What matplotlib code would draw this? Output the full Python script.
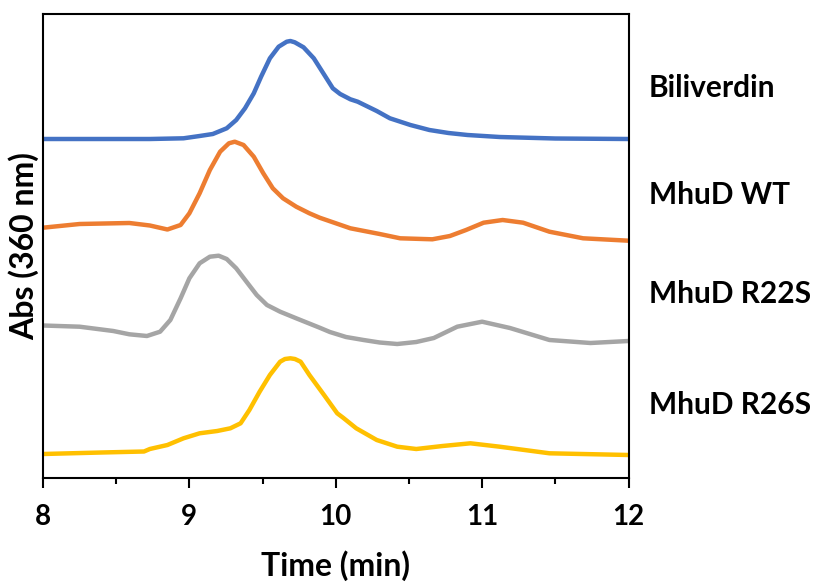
import matplotlib
matplotlib.use('Agg')
import matplotlib.pyplot as plt
from matplotlib.ticker import MultipleLocator

# Retention time (min) and offset absorbance
t_bv = [8.00, 8.30, 8.73, 8.96, 9.07, 9.16, 9.255, 9.32, 9.38, 9.44, 9.49, 9.55,
        9.61, 9.665, 9.69, 9.72, 9.78, 9.85, 9.915, 9.98, 10.03, 10.10, 10.15,
        10.28, 10.37, 10.51, 10.64, 10.77, 10.90, 11.12, 11.50, 12.00]
a_bv = [3.39, 3.39, 3.39, 3.397, 3.42, 3.44, 3.497, 3.58, 3.697, 3.847, 4.013, 4.197,
        4.313, 4.363, 4.37, 4.357, 4.307, 4.197, 4.047, 3.897, 3.84, 3.787, 3.763,
        3.67, 3.597, 3.53, 3.48, 3.45, 3.43, 3.41, 3.395, 3.39]

t_wt = [8.00, 8.25, 8.59, 8.73, 8.85, 8.94, 9.00, 9.07, 9.14, 9.21, 9.27, 9.31,
        9.37, 9.44, 9.505, 9.57, 9.64, 9.73, 9.82, 9.89, 10.10, 10.30, 10.44,
        10.66, 10.78, 10.89, 11.01, 11.14, 11.28, 11.46, 11.69, 12.00]
a_wt = [2.503, 2.54, 2.55, 2.525, 2.485, 2.53, 2.647, 2.847, 3.08, 3.263, 3.347, 3.363,
        3.33, 3.213, 3.047, 2.897, 2.797, 2.713, 2.647, 2.603, 2.497, 2.44, 2.397,
        2.387, 2.42, 2.48, 2.553, 2.58, 2.553, 2.463, 2.397, 2.373]

t_r22s = [8.00, 8.25, 8.48, 8.59, 8.71, 8.80, 8.87, 8.94, 9.00, 9.07, 9.14, 9.20,
          9.255, 9.32, 9.39, 9.46, 9.53, 9.62, 9.73, 9.89, 9.96, 10.07, 10.19,
          10.30, 10.42, 10.55, 10.67, 10.83, 11.00, 11.19, 11.46, 11.74, 12.00]
a_r22s = [1.525, 1.513, 1.47, 1.437, 1.42, 1.463, 1.58, 1.797, 1.997, 2.147, 2.213, 2.223,
          2.19, 2.097, 1.963, 1.83, 1.73, 1.663, 1.597, 1.503, 1.46, 1.41, 1.38,
          1.355, 1.34, 1.36, 1.40, 1.513, 1.563, 1.50, 1.38, 1.35, 1.37]

t_r26s = [8.00, 8.40, 8.69, 8.73, 8.85, 8.96, 9.07, 9.19, 9.28, 9.35, 9.41, 9.48,
          9.55, 9.62, 9.653, 9.69, 9.721, 9.76, 9.82, 9.92, 10.01, 10.05, 10.14,
          10.28, 10.42, 10.55, 10.73, 10.92, 11.12, 11.46, 12.00]
a_r26s = [0.24, 0.255, 0.265, 0.29, 0.33, 0.397, 0.447, 0.47, 0.497, 0.547, 0.68, 0.863,
          1.03, 1.163, 1.19, 1.197, 1.19, 1.163, 1.03, 0.83, 0.647, 0.603, 0.497,
          0.38, 0.313, 0.29, 0.32, 0.347, 0.313, 0.247, 0.23]

names = ['Biliverdin', 'MhuD WT', 'MhuD R22S', 'MhuD R26S']
colors = ['#4472C4', '#ED7D31', '#A5A5A5', '#FFC000']
label_y = [88, 195, 294, 405]  # label centres, pixels from top

plt.rcParams['font.family'] = ['Lato', 'DejaVu Sans']
plt.rcParams['font.weight'] = 'bold'

fig = plt.figure(figsize=(8.18, 5.82), dpi=100)
ax = fig.add_axes([43 / 818, 1 - 478 / 582, (628.5 - 43) / 818, (478 - 14) / 582])

traces = [(t_bv, a_bv), (t_wt, a_wt), (t_r22s, a_r22s), (t_r26s, a_r26s)]
for (t, a), c in zip(traces, colors):
    ax.plot(t, a, color=c, lw=3.2, solid_joinstyle='round', solid_capstyle='butt',
            clip_on=False)

ax.set_xlim(8, 12)
ax.set_ylim(0, 4.64)
ax.xaxis.set_major_locator(MultipleLocator(1))
ax.xaxis.set_minor_locator(MultipleLocator(0.5))
ax.set_yticks([])

for s in ax.spines.values():
    s.set_linewidth(1.5)
ax.tick_params(axis='x', which='major', direction='out', length=7, width=1.5,
               labelsize=20, pad=12)
ax.tick_params(axis='x', which='minor', direction='out', length=4.3, width=1.5)
for lab in ax.get_xticklabels():
    lab.set_fontweight('bold')

ax.set_xlabel('Time (min)', fontsize=23, fontweight='bold', labelpad=14)
ax.set_ylabel('Abs (360 nm)', fontsize=23, fontweight='bold', labelpad=3)

for n, y in zip(names, label_y):
    fig.text(649 / 818, 1 - y / 582, n, fontsize=21.5, fontweight='bold',
             va='center', ha='left')

fig.savefig('out.png', dpi=100)
